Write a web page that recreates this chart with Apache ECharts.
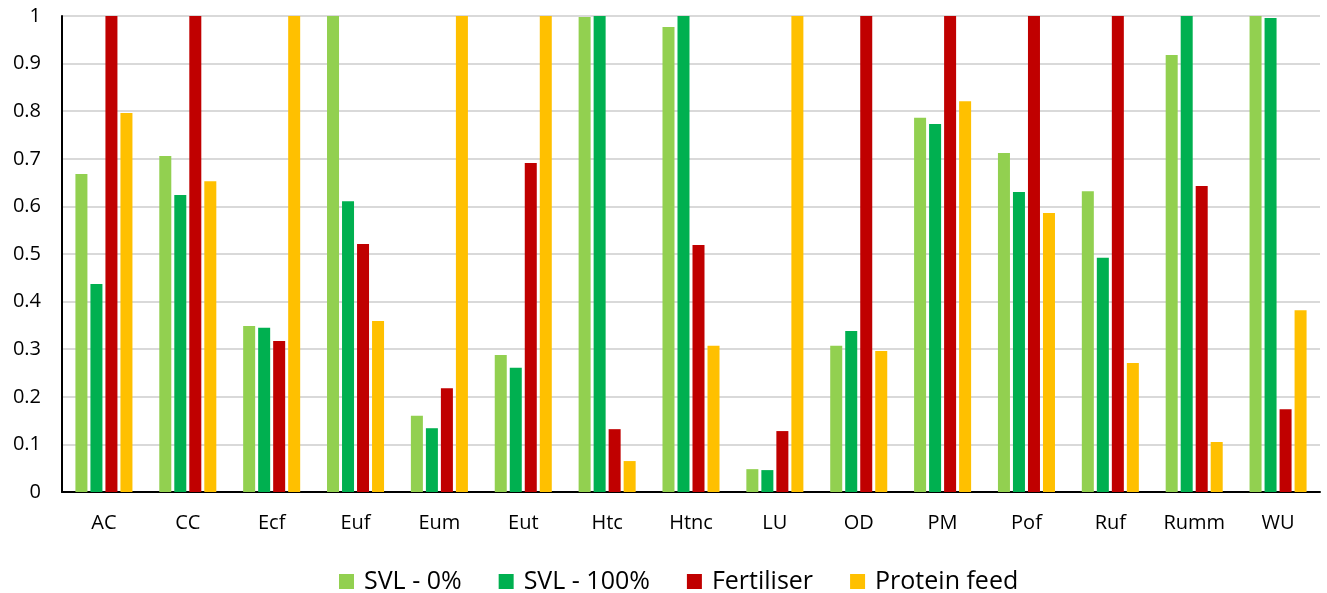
<!DOCTYPE html>
<html><head><meta charset="utf-8">
<script src="https://cdn.jsdelivr.net/npm/echarts@6/dist/echarts.min.js"></script>
<style>html,body{margin:0;padding:0;background:#fff}#c{width:1327px;height:593px}</style>
</head><body><div id="c"></div>
<script>
const categories = ["AC","CC","Ecf","Euf","Eum","Eut","Htc","Htnc","LU","OD","PM","Pof","Ruf","Rumm","WU"];
const svl0    = [0.668,0.706,0.349,1,0.160,0.288,0.998,0.977,0.048,0.307,0.786,0.712,0.632,0.918,1];
const svl100  = [0.437,0.624,0.345,0.611,0.134,0.261,1,1,0.046,0.338,0.773,0.630,0.492,1,0.996];
const fert    = [1,1,0.317,0.521,0.218,0.691,0.132,0.519,0.128,1,1,1,1,0.643,0.174];
const protein = [0.796,0.653,1,0.359,1,1,0.065,0.307,1,0.296,0.821,0.586,0.271,0.105,0.382];
const seriesNames = ["SVL - 0%","SVL - 100%","Fertiliser","Protein feed"];
const colors = ["#92D050","#00B050","#C00000","#FFC000"];
const font = "'Open Sans', 'Liberation Sans', sans-serif";
const chart = echarts.init(document.getElementById('c'));
const data = [svl0, svl100, fert, protein];
chart.setOption({
  animation:false,
  grid:{left:62,right:7,top:16,bottom:101},
  legend:{top:564,left:334,itemWidth:15,itemHeight:15,itemGap:37,icon:'rect',
    textStyle:{fontFamily:font,fontSize:25,color:'#000',padding:[0,0,0,5]}, data:seriesNames},
  xAxis:{type:'category',data:categories,
    axisLine:{lineStyle:{color:'#000',width:2}},axisTick:{show:false},
    axisLabel:{fontFamily:font,fontSize:20,color:'#000',margin:21}},
  yAxis:{type:'value',min:0,max:1,interval:0.1,
    axisLine:{show:true,lineStyle:{color:'#000',width:2}},axisTick:{show:false},
    splitLine:{lineStyle:{color:'#d9d9d9',width:2}},
    axisLabel:{fontFamily:font,fontSize:20,color:'#000',margin:21,
      formatter:v=>String(Math.round(v*10)/10)}},
  series:data.map((d,i)=>({name:seriesNames[i],type:'bar',data:d,
    barGap:'25%',barCategoryGap:'32%',
    itemStyle:{color:colors[i]}}))
});
</script></body></html>
